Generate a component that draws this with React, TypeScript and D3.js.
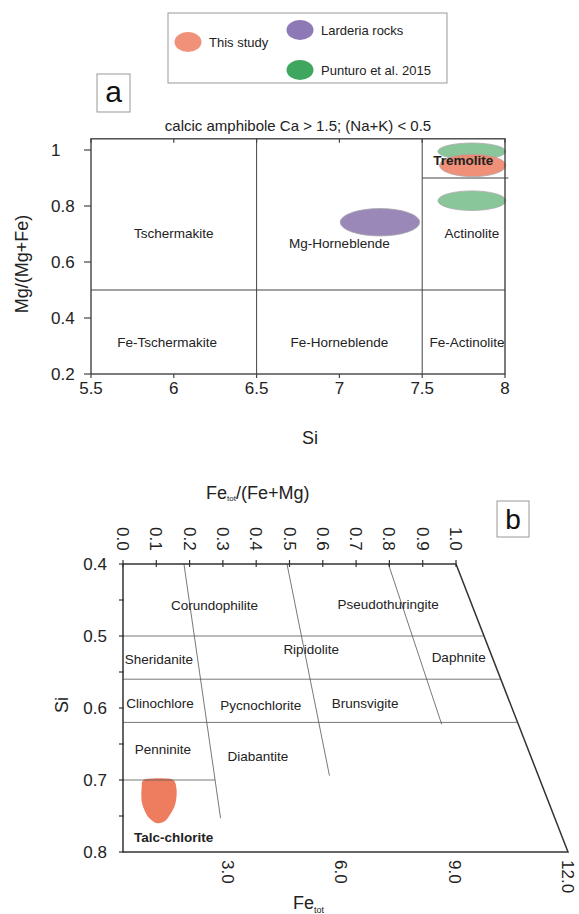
import { useRef, useEffect } from 'react'
import * as d3 from 'd3'

const W = 579
const H = 914
const FONT = '"Liberation Sans", Arial, Helvetica, sans-serif'

// legend
const groups = ['This study', 'Larderia rocks', 'Punturo et al. 2015']
const legendFill = ['#F2917A', '#8C79B5', '#3FA660']
const plotFill = ['#F0846A', '#8F7BB0', '#7CC190']

// panel a: calcic amphibole classification (Si vs Mg/(Mg+Fe))
const siTicksA = [5.5, 6, 6.5, 7, 7.5, 8]
const mgTicksA = [0.2, 0.4, 0.6, 0.8, 1]
const siBoundsA = [6.5, 7.5]
const mgBoundA = 0.5
const tremoliteBound = 0.9
const amphFields = [
  { name: 'Tschermakite', si: 6.0, mg: 0.702 },
  { name: 'Mg-Horneblende', si: 7.0, mg: 0.667 },
  { name: 'Actinolite', si: 7.8, mg: 0.702 },
  { name: 'Fe-Tschermakite', si: 5.96, mg: 0.312 },
  { name: 'Fe-Horneblende', si: 7.0, mg: 0.312 },
  { name: 'Fe-Actinolite', si: 7.77, mg: 0.312 },
]
const amphEllipses = [
  { group: 2, si: 7.8, mg: 0.995, dSi: 0.205, dMg: 0.03 },
  { group: 2, si: 7.8, mg: 0.819, dSi: 0.205, dMg: 0.035 },
  { group: 1, si: 7.245, mg: 0.742, dSi: 0.24, dMg: 0.049 },
  { group: 0, si: 7.805, mg: 0.945, dSi: 0.2, dMg: 0.04 },
]

// panel b: chlorite classification (Fe/(Fe+Mg), Si, Fe_tot)
const ratioTicks = d3.range(0, 1.01, 0.1)
const siTicksB = [0.4, 0.5, 0.6, 0.7, 0.8]
const siMinorB = [0.45, 0.55, 0.65, 0.75]
const feTotTicks = [3, 6, 9, 12]
const siBoundsB = [0.5, 0.56, 0.62]
const pennineBound = 0.7
const chlDiagonals = [
  { top: 0.183, end: 0.293, siEnd: 0.753 },
  { top: 0.4925, end: 0.62, siEnd: 0.694 },
  { top: 0.797, end: 0.957, siEnd: 0.6226 },
]
const chlFields = [
  { name: 'Corundophilite', r: 0.275, si: 0.458 },
  { name: 'Pseudothuringite', r: 0.796, si: 0.456 },
  { name: 'Ripidolite', r: 0.565, si: 0.518 },
  { name: 'Sheridanite', r: 0.108, si: 0.532 },
  { name: 'Daphnite', r: 1.008, si: 0.53 },
  { name: 'Clinochlore', r: 0.111, si: 0.593 },
  { name: 'Pycnochlorite', r: 0.414, si: 0.596 },
  { name: 'Brunsvigite', r: 0.727, si: 0.593 },
  { name: 'Penninite', r: 0.12, si: 0.657 },
  { name: 'Diabantite', r: 0.405, si: 0.667 },
]
// field of the analysed chlorites (this study)
const chlStudyField = [
  [0.066, 0.699], [0.147, 0.699], [0.161, 0.714], [0.156, 0.735], [0.129, 0.756],
  [0.102, 0.76], [0.075, 0.751], [0.057, 0.732], [0.056, 0.711],
]

export default function App() {
  const svgRef = useRef<SVGSVGElement>(null)

  useEffect(() => {
    const svg = d3.select(svgRef.current)
    svg.selectAll('*').remove()
    svg.attr('font-family', FONT)

    // ---------- legend ----------
    const lg = svg.append('g')
    lg.append('rect').attr('x', 168).attr('y', 13).attr('width', 279).attr('height', 70)
      .attr('fill', 'none').attr('stroke', '#999').attr('stroke-width', 1)
    const legendPos = [[188, 42], [300, 30], [300, 70]]
    groups.forEach((g, i) => {
      const [cx, cy] = legendPos[i]
      lg.append('ellipse').attr('cx', cx).attr('cy', cy).attr('rx', 13.5).attr('ry', 10)
        .attr('fill', legendFill[i])
      lg.append('text').attr('x', cx + 21).attr('y', cy).attr('dy', '0.35em')
        .attr('font-size', 13).attr('fill', '#222').text(g)
    })

    // ---------- panel a ----------
    const xA = d3.scaleLinear().domain([5.5, 8]).range([91, 505])
    const yA = d3.scaleLinear().domain([0.2, 1]).range([374, 150])
    const yTopA = yA(1.04)
    const a = svg.append('g')

    a.append('rect').attr('x', 97).attr('y', 74).attr('width', 33).attr('height', 38)
      .attr('fill', 'none').attr('stroke', '#999')
    a.append('text').attr('x', 113.5).attr('y', 102).attr('text-anchor', 'middle')
      .attr('font-size', 30).attr('fill', '#111').text('a')

    a.append('text').attr('x', (xA(5.5) + xA(8)) / 2).attr('y', 131).attr('text-anchor', 'middle')
      .attr('font-size', 15).attr('fill', '#222')
      .text('calcic amphibole Ca > 1.5; (Na+K) < 0.5')

    amphEllipses.forEach((e) => {
      a.append('ellipse')
        .attr('cx', xA(e.si)).attr('cy', yA(e.mg))
        .attr('rx', xA(e.si + e.dSi) - xA(e.si)).attr('ry', yA(e.mg) - yA(e.mg + e.dMg))
        .attr('fill', plotFill[e.group]).attr('fill-opacity', 0.9)
        .attr('stroke', '#aaa').attr('stroke-width', 0.8)
    })

    const line = (x1, y1, x2, y2, w = 1, c = '#444') =>
      a.append('line').attr('x1', x1).attr('y1', y1).attr('x2', x2).attr('y2', y2)
        .attr('stroke', c).attr('stroke-width', w)

    siBoundsA.forEach((s) => line(xA(s), yTopA, xA(s), yA(0.2)))
    line(xA(5.5), yA(mgBoundA), xA(8), yA(mgBoundA))
    line(xA(7.5), yA(tremoliteBound), xA(8.02), yA(tremoliteBound))

    a.append('rect').attr('x', xA(5.5)).attr('y', yTopA)
      .attr('width', xA(8) - xA(5.5)).attr('height', yA(0.2) - yTopA)
      .attr('fill', 'none').attr('stroke', '#444').attr('stroke-width', 1.4)

    mgTicksA.forEach((t) => {
      line(xA(5.5) - 7, yA(t), xA(5.5), yA(t), 1.2)
      a.append('text').attr('x', 51).attr('y', yA(t)).attr('dy', '0.35em')
        .attr('font-size', 17).attr('fill', '#222').text(t === 1 ? '1' : t.toFixed(1))
    })
    siTicksA.forEach((t) => {
      line(xA(t), yA(0.2), xA(t), yA(0.2) + 4, 1.2)
      line(xA(t), yTopA, xA(t), yTopA + 4, 1.2)
      a.append('text').attr('x', xA(t)).attr('y', 394).attr('text-anchor', 'middle')
        .attr('font-size', 17).attr('fill', '#222').text(String(t))
    })

    amphFields.forEach((f) => {
      a.append('text').attr('x', xA(f.si)).attr('y', yA(f.mg)).attr('dy', '0.35em')
        .attr('text-anchor', 'middle').attr('font-size', 13.5).attr('fill', '#222').text(f.name)
    })
    a.append('text').attr('x', xA(7.748)).attr('y', yA(0.964)).attr('dy', '0.35em')
      .attr('text-anchor', 'middle').attr('font-size', 13.5).attr('font-weight', 700)
      .attr('fill', '#222').text('Tremolite')

    a.append('text').attr('transform', 'translate(28,264) rotate(-90)')
      .attr('text-anchor', 'middle').attr('font-size', 18).attr('fill', '#222').text('Mg/(Mg+Fe)')
    a.append('text').attr('x', 310).attr('y', 444).attr('text-anchor', 'middle')
      .attr('font-size', 18).attr('fill', '#222').text('Si')

    // ---------- panel b ----------
    const xB = d3.scaleLinear().domain([0, 1]).range([123, 456])
    const xFe = d3.scaleLinear().domain([0, 12]).range([114, 568])
    const yB = d3.scaleLinear().domain([0.4, 0.8]).range([564, 852])
    const b = svg.append('g')
    const lineB = (x1, y1, x2, y2, w = 0.8, c = '#555') =>
      b.append('line').attr('x1', x1).attr('y1', y1).attr('x2', x2).attr('y2', y2)
        .attr('stroke', c).attr('stroke-width', w)

    const rightX = (si) => xB(1) + (xFe(12) - xB(1)) * (si - 0.4) / 0.4
    const diagX = (d, si) => xB(d.top + (d.end - d.top) * (si - 0.4) / (d.siEnd - 0.4))

    b.append('rect').attr('x', 497).attr('y', 501).attr('width', 32).attr('height', 36)
      .attr('fill', 'none').attr('stroke', '#999')
    b.append('text').attr('x', 513).attr('y', 529).attr('text-anchor', 'middle')
      .attr('font-size', 28).attr('fill', '#111').text('b')

    const ft = b.append('text').attr('x', 206).attr('y', 499).attr('font-size', 18).attr('fill', '#222')
    ft.append('tspan').text('Fe')
    ft.append('tspan').attr('font-size', 8).attr('dy', 2).text('tot')
    ft.append('tspan').attr('dy', -2).text('/(Fe+Mg)')

    b.append('path')
      .attr('d', d3.line()(chlStudyField.map(([r, s]) => [xB(r), yB(s)])).replace(/L/g, 'L'))
      .attr('d', d3.line().curve(d3.curveCardinalClosed.tension(0.2))(chlStudyField.map(([r, s]) => [xB(r), yB(s)])))
      .attr('fill', '#EE7D60')

    siBoundsB.forEach((s) => lineB(xB(0), yB(s), rightX(s), yB(s)))
    lineB(xB(0), yB(pennineBound), diagX(chlDiagonals[0], pennineBound), yB(pennineBound))
    chlDiagonals.forEach((d) => lineB(xB(d.top), yB(0.4), xB(d.end), yB(d.siEnd)))

    b.append('path')
      .attr('d', `M${xB(0)},${yB(0.4)}L${xB(1)},${yB(0.4)}L${xFe(12)},${yB(0.8)}L${xB(0)},${yB(0.8)}Z`)
      .attr('fill', 'none').attr('stroke', '#333').attr('stroke-width', 1.5)

    ratioTicks.forEach((t) => {
      lineB(xB(t), yB(0.4) - 4, xB(t), yB(0.4) + 3, 1.2, '#333')
      b.append('text').attr('transform', `translate(${xB(t)},527) rotate(90)`).attr('dy', '0.35em')
        .attr('font-size', 17).attr('fill', '#222').text(t.toFixed(1))
    })
    siTicksB.forEach((t) => {
      lineB(xB(0) - 4, yB(t), xB(0) + 1, yB(t), 1.2, '#333')
      b.append('text').attr('x', 107).attr('y', yB(t)).attr('dy', '0.35em').attr('text-anchor', 'end')
        .attr('font-size', 17).attr('fill', '#222').text(t.toFixed(1))
    })
    siMinorB.forEach((t) => lineB(xB(0) - 4, yB(t), xB(0) + 1, yB(t), 1.2, '#333'))
    feTotTicks.forEach((t) => {
      b.append('text').attr('transform', `translate(${xFe(t)},860) rotate(90)`).attr('dy', '0.35em')
        .attr('font-size', 17).attr('fill', '#222').text(t.toFixed(1))
    })

    chlFields.forEach((f) => {
      b.append('text').attr('x', xB(f.r)).attr('y', yB(f.si)).attr('dy', '0.35em')
        .attr('text-anchor', 'middle').attr('font-size', 13.5).attr('fill', '#222').text(f.name)
    })
    b.append('text').attr('x', xB(0.152)).attr('y', yB(0.779)).attr('dy', '0.35em')
      .attr('text-anchor', 'middle').attr('font-size', 13.5).attr('font-weight', 700)
      .attr('fill', '#222').text('Talc-chlorite')

    b.append('text').attr('transform', 'translate(68,705) rotate(-90)')
      .attr('text-anchor', 'middle').attr('font-size', 18).attr('fill', '#222').text('Si')
    const fb = b.append('text').attr('x', 293).attr('y', 909).attr('font-size', 18).attr('fill', '#222')
    fb.append('tspan').text('Fe')
    fb.append('tspan').attr('font-size', 9).attr('dy', 4).text('tot')
  }, [])

  return (
    <svg ref={svgRef} width={W} height={H}
      style={{ position: 'absolute', left: 0, top: 0, background: '#fff' }} />
  )
}
